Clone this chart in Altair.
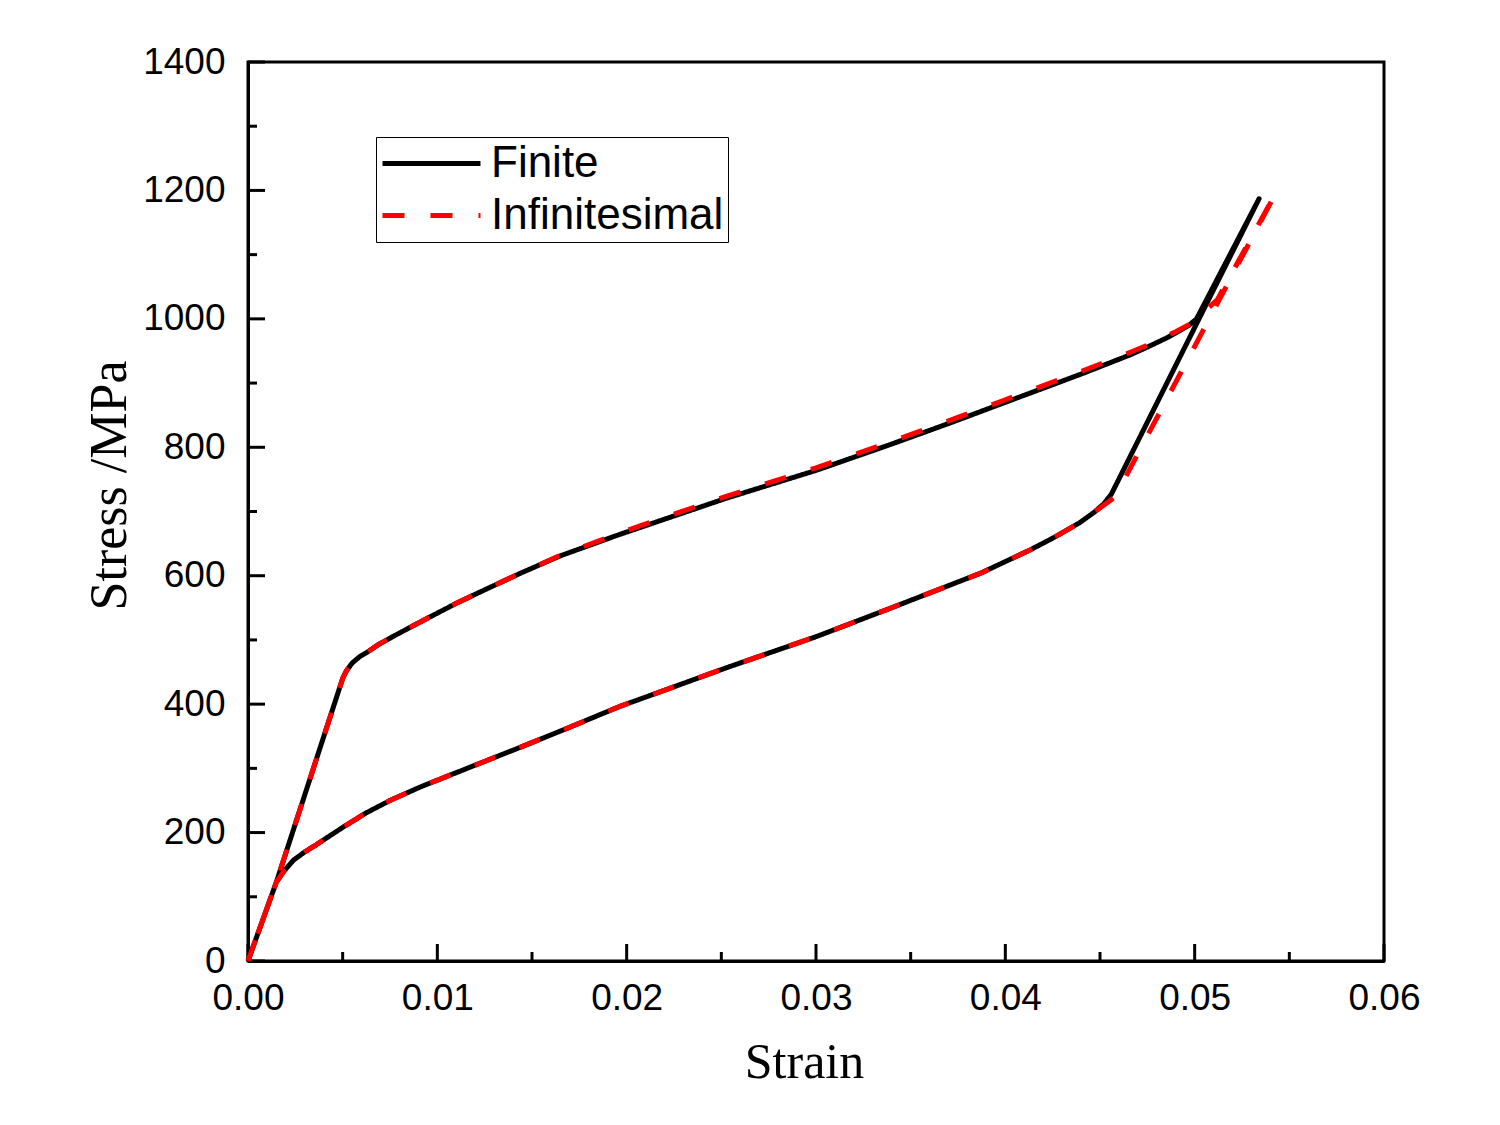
import altair as alt
import pandas as pd

# ---- data ----
upper_strain = [0.0, 0.0015, 0.0050, 0.0052, 0.0055, 0.0059, 0.0063, 0.0069, 0.0077, 0.0091,
                0.0110, 0.0125, 0.0144, 0.0165, 0.0196, 0.0225, 0.0253, 0.0300, 0.0339, 0.0370,
                0.0400, 0.0440, 0.0466, 0.0475, 0.0485, 0.0490, 0.0497, 0.0501]
upper_stress_finite = [0, 123, 440, 452, 464, 474, 481, 493, 506, 528,
                       557, 578, 604, 631, 664, 693, 721, 764, 804, 837,
                       870, 914, 944, 956, 970, 978, 990, 1000]
upper_stress_inf = [0, 123, 440, 452, 464, 474, 481, 493, 506, 528,
                    557, 578, 604, 632, 666, 696, 724, 768, 808, 841,
                    874, 918, 948, 959, 973, 980, 991, 1000]

lower_strain = [0.0452, 0.0447, 0.0439, 0.0426, 0.0413, 0.0387, 0.0339, 0.0300, 0.0253, 0.0225,
                0.0196, 0.0165, 0.0144, 0.0120, 0.0091, 0.0075, 0.0062, 0.0050, 0.0036, 0.0030,
                0.0024, 0.0019, 0.0015, 0.0]
lower_stress = [712, 699, 682, 660, 640, 604, 549, 505, 457, 427,
                396, 358, 333, 305, 271, 250, 230, 208, 181, 170,
                157, 140, 123, 0]

# turning points (peak and unloading knee) of each model
finite_peak = (0.0534, 1187)
finite_knee = (0.0456, 727)
inf_bend = (0.0512, 1030)
inf_peak = (0.0543, 1197)
inf_knee = (0.0458, 723)

series_names = ["Finite", "Infinitesimal"]
series_colors = ["black", "red"]

x_major = [0.0, 0.01, 0.02, 0.03, 0.04, 0.05, 0.06]
x_minor = [0.005, 0.015, 0.025, 0.035, 0.045, 0.055]
y_major = [0, 200, 400, 600, 800, 1000, 1200, 1400]
y_minor = [100, 300, 500, 700, 900, 1100, 1300]

# ---- tables ----
finite_strain = upper_strain + [finite_peak[0], finite_knee[0]] + lower_strain
finite_stress = upper_stress_finite + [finite_peak[1], finite_knee[1]] + lower_stress
inf_strain = upper_strain + [inf_bend[0], inf_peak[0], inf_knee[0]] + lower_strain[1:]
inf_stress = upper_stress_inf + [inf_bend[1], inf_peak[1], inf_knee[1]] + lower_stress[1:]

rows = []
for i, (s, v) in enumerate(zip(finite_strain, finite_stress)):
    rows.append({"series": "Finite", "idx": i, "strain": s, "stress": v})
for i, (s, v) in enumerate(zip(inf_strain, inf_stress)):
    rows.append({"series": "Infinitesimal", "idx": i, "strain": s, "stress": v})
df = pd.DataFrame(rows)

W, H = 1136, 899
xscale = alt.Scale(domain=[0, 0.06], nice=False, zero=False)
yscale = alt.Scale(domain=[0, 1400], nice=False, zero=False)

legend = alt.Legend(
    title=None, orient="none", legendX=128, legendY=75,
    strokeColor="black", padding=4, symbolType="M-1,0H3.9", symbolSize=1600,
    symbolStrokeWidth=5, labelFontSize=44, labelFont="Liberation Sans",
    labelColor="black", labelOffset=66, rowPadding=7, labelLimit=0,
)

lines = alt.Chart(df).mark_line(strokeWidth=5, strokeCap="butt", strokeJoin="round").encode(
    x=alt.X("strain:Q", scale=xscale, axis=alt.Axis(
        values=x_major, format=".2f", ticks=False, grid=False, labelPadding=19,
        labelFlush=False,
        labelFontSize=37, labelFont="Liberation Sans", labelColor="black",
        domainColor="black", domainWidth=3,
        title="Strain", titleFont="Liberation Serif", titleFontSize=50,
        titleFontWeight="normal", titleColor="black", titleX=556, titleY=116,
        titleBaseline="alphabetic", titleAlign="center")),
    y=alt.Y("stress:Q", scale=yscale, axis=alt.Axis(
        values=y_major, format="d", ticks=False, grid=False, labelPadding=23,
        labelFlush=False,
        labelFontSize=37, labelFont="Liberation Sans", labelColor="black",
        domainColor="black", domainWidth=3,
        title="Stress /MPa", titleFont="Liberation Serif", titleFontSize=52,
        titleFontWeight="normal", titleColor="black", titleX=-123, titleY=423,
        titleBaseline="alphabetic", titleAlign="center", titleAngle=-90)),
    color=alt.Color("series:N", scale=alt.Scale(domain=series_names, range=series_colors), legend=legend),
    strokeDash=alt.StrokeDash("series:N", scale=alt.Scale(domain=series_names, range=[[1, 0], [22, 26]]), legend=legend),
    order=alt.Order("idx:Q"),
)

xmaj = pd.DataFrame({"v": x_major})
xmin = pd.DataFrame({"v": x_minor})
ymaj = pd.DataFrame({"v": y_major})
ymin = pd.DataFrame({"v": y_minor})

tick_style = dict(color="black", strokeWidth=3)
xt_major = alt.Chart(xmaj).mark_rule(**tick_style).encode(
    x=alt.X("v:Q", scale=xscale), y=alt.value(H), y2=alt.value(H - 17))
xt_minor = alt.Chart(xmin).mark_rule(**tick_style).encode(
    x=alt.X("v:Q", scale=xscale), y=alt.value(H), y2=alt.value(H - 9))
yt_major = alt.Chart(ymaj).mark_rule(**tick_style).encode(
    y=alt.Y("v:Q", scale=yscale), x=alt.value(0), x2=alt.value(17))
yt_minor = alt.Chart(ymin).mark_rule(**tick_style).encode(
    y=alt.Y("v:Q", scale=yscale), x=alt.value(0), x2=alt.value(9))

chart = alt.layer(xt_major, xt_minor, yt_major, yt_minor, lines).properties(
    width=W, height=H, autosize="none",
    padding={"left": 248, "top": 62, "right": 116, "bottom": 164},
    background="white",
).configure_view(stroke="black", strokeWidth=3)

chart.save("out.html", embed_options={"renderer": "svg", "actions": False})
